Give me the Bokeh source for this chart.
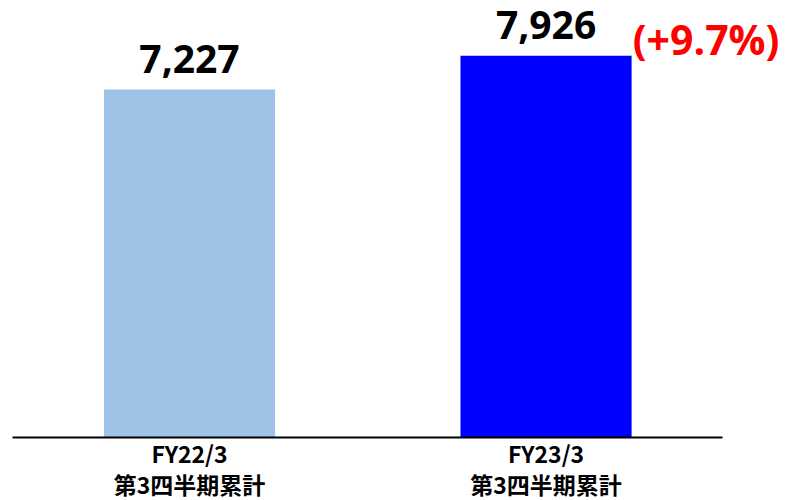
from bokeh.plotting import figure
from bokeh.models import ColumnDataSource, FixedTicker, Label, LabelSet
from bokeh.core.properties import value
from bokeh.embed import file_html
from bokeh.resources import INLINE

categories = ["FY22/3\n第3四半期累計", "FY23/3\n第3四半期累計"]
values = [7227, 7926]
value_labels = ["7,227", "7,926"]
bar_colors = ["#9DC3E6", "#0000FF"]
growth_label = "(+9.7%)"

xs = [i * 2 + 1 for i in range(len(categories))]

src = ColumnDataSource(dict(x=xs, top=values, color=bar_colors, label=value_labels))

p = figure(frame_width=766, frame_height=437, output_backend="svg", toolbar_location=None,
           x_range=(0.007, 4.304), y_range=(0, 9076),
           min_border_left=12, min_border_right=0, min_border_top=0, min_border_bottom=63)
p.outline_line_color = None
p.background_fill_color = "white"
p.border_fill_color = "white"
p.xgrid.visible = False
p.ygrid.visible = False
p.yaxis.visible = False

p.vbar(x="x", top="top", bottom=0, width=0.96, fill_color="color", line_color=None, source=src)

labels = LabelSet(x="x", y="top", text="label", source=src, text_align="center",
                  text_baseline="alphabetic", y_offset=17, text_font=value("Open Sans"),
                  text_font_style="bold", text_font_size="39px", text_color="black")
p.add_layout(labels)

p.add_layout(Label(x=xs[1], y=values[1], text=growth_label, x_offset=160, y_offset=17,
                   text_align="center", text_baseline="alphabetic", text_font="Open Sans",
                   text_font_style="bold", text_font_size="41px", text_color="#FF0000"))

ax = p.xaxis[0]
ax.bounds = (0.007, 3.99)
ax.ticker = FixedTicker(ticks=xs)
ax.major_label_overrides = {x: c for x, c in zip(xs, categories)}
ax.major_tick_line_color = None
ax.minor_tick_line_color = None
ax.axis_line_color = "black"
ax.axis_line_width = 2
ax.major_label_standoff = -8
ax.major_label_text_font = "Noto Sans CJK JP"
ax.major_label_text_font_style = "bold"
ax.major_label_text_font_size = "23px"
ax.major_label_text_line_height = 0.92
ax.major_label_text_color = "black"

open("out.html", "w").write(file_html(p, INLINE))
